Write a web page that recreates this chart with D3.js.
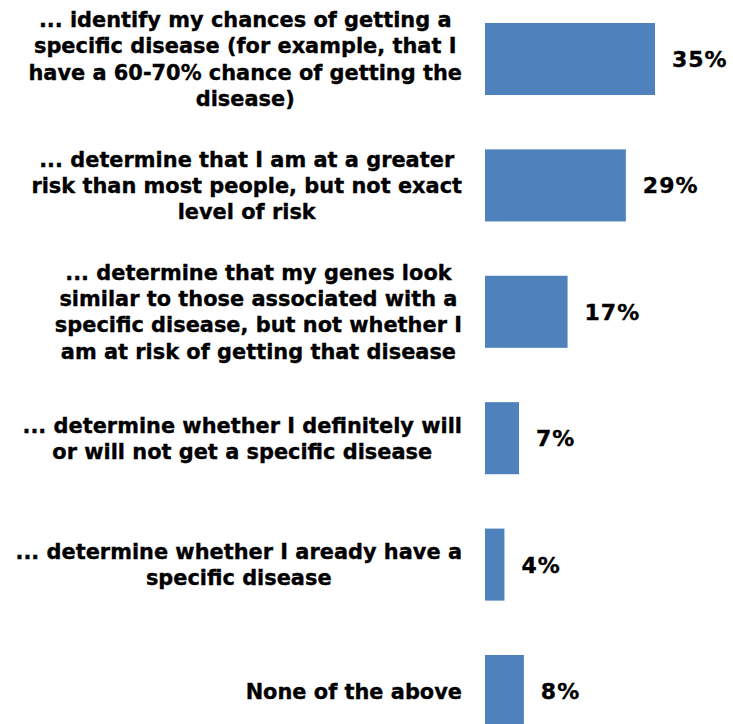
<!DOCTYPE html>
<html>
<head>
<meta charset="utf-8">
<script src="https://cdn.jsdelivr.net/npm/d3@7"></script>
<style>
  html, body { margin: 0; padding: 0; background: #fff; }
  svg { display: block; }
  text { font-family: "DejaVu Sans", Verdana, sans-serif; font-weight: bold; fill: #000; stroke: #000; stroke-width: 0.35px; }
</style>
</head>
<body>
<svg id="chart" width="733" height="724"></svg>
<script>
// Survey answers, each wrapped the way it is printed beside its bar
const categories = [
  ["... identify my chances of getting a", "specific disease (for example, that I", "have a 60-70% chance of getting the", "disease)"],
  ["... determine that I am at a greater", "risk than most people, but not exact", "level of risk"],
  ["... determine that my genes look", "similar to those associated with a", "specific disease, but not whether I", "am at risk of getting that disease"],
  ["... determine whether I definitely will", "or will not get a specific disease"],
  ["... determine whether I aready have a", "specific disease"],
  ["None of the above"]
];
const values = [35, 29, 17, 7, 4, 8];
const valueLabels = ["35%", "29%", "17%", "7%", "4%", "8%"];

const svg = d3.select("#chart");
const fontSize = 20.9;
const valueFontSize = 22;
const lineHeight = 26.3;
const labelRight = 462;

const keys = categories.map((c, i) => i);

const x = d3.scaleLinear().domain([0, 35]).range([485, 655]);
const y = d3.scaleBand()
  .domain(keys)
  .range([-4.2, -4.2 + 6 * 126.4])
  .paddingInner(0.43)
  .paddingOuter(0.215);

// Bars
svg.append("g").selectAll("rect")
  .data(values)
  .join("rect")
  .attr("x", x(0))
  .attr("y", (d, i) => y(i))
  .attr("width", d => x(d) - x(0))
  .attr("height", y.bandwidth())
  .attr("fill", "#4F81BD");

// Value labels
svg.append("g").selectAll("text")
  .data(values)
  .join("text")
  .attr("x", d => x(d) + 17)
  .attr("y", (d, i) => y(i) + y.bandwidth() / 2 + 0.36 * valueFontSize)
  .attr("font-size", valueFontSize)
  .attr("letter-spacing", 1)
  .text((d, i) => valueLabels[i]);

// Category labels: lines centred within a block that is right-aligned to the axis
const labelG = svg.append("g");
categories.forEach((lines, i) => {
  const g = labelG.append("g");
  const texts = lines.map((line, j) => g.append("text")
    .attr("font-size", fontSize)
    .attr("text-anchor", "middle")
    .text(line));
  const widths = texts.map(t => t.node().getComputedTextLength());
  const blockW = d3.max(widths);
  const cx = labelRight - blockW / 2;
  const center = y(i) + y.bandwidth() / 2;
  const top = center - (lines.length - 1) * lineHeight / 2;
  texts.forEach((t, j) => {
    t.attr("x", cx).attr("y", top + j * lineHeight + 0.36 * fontSize);
  });
});
</script>
</body>
</html>
